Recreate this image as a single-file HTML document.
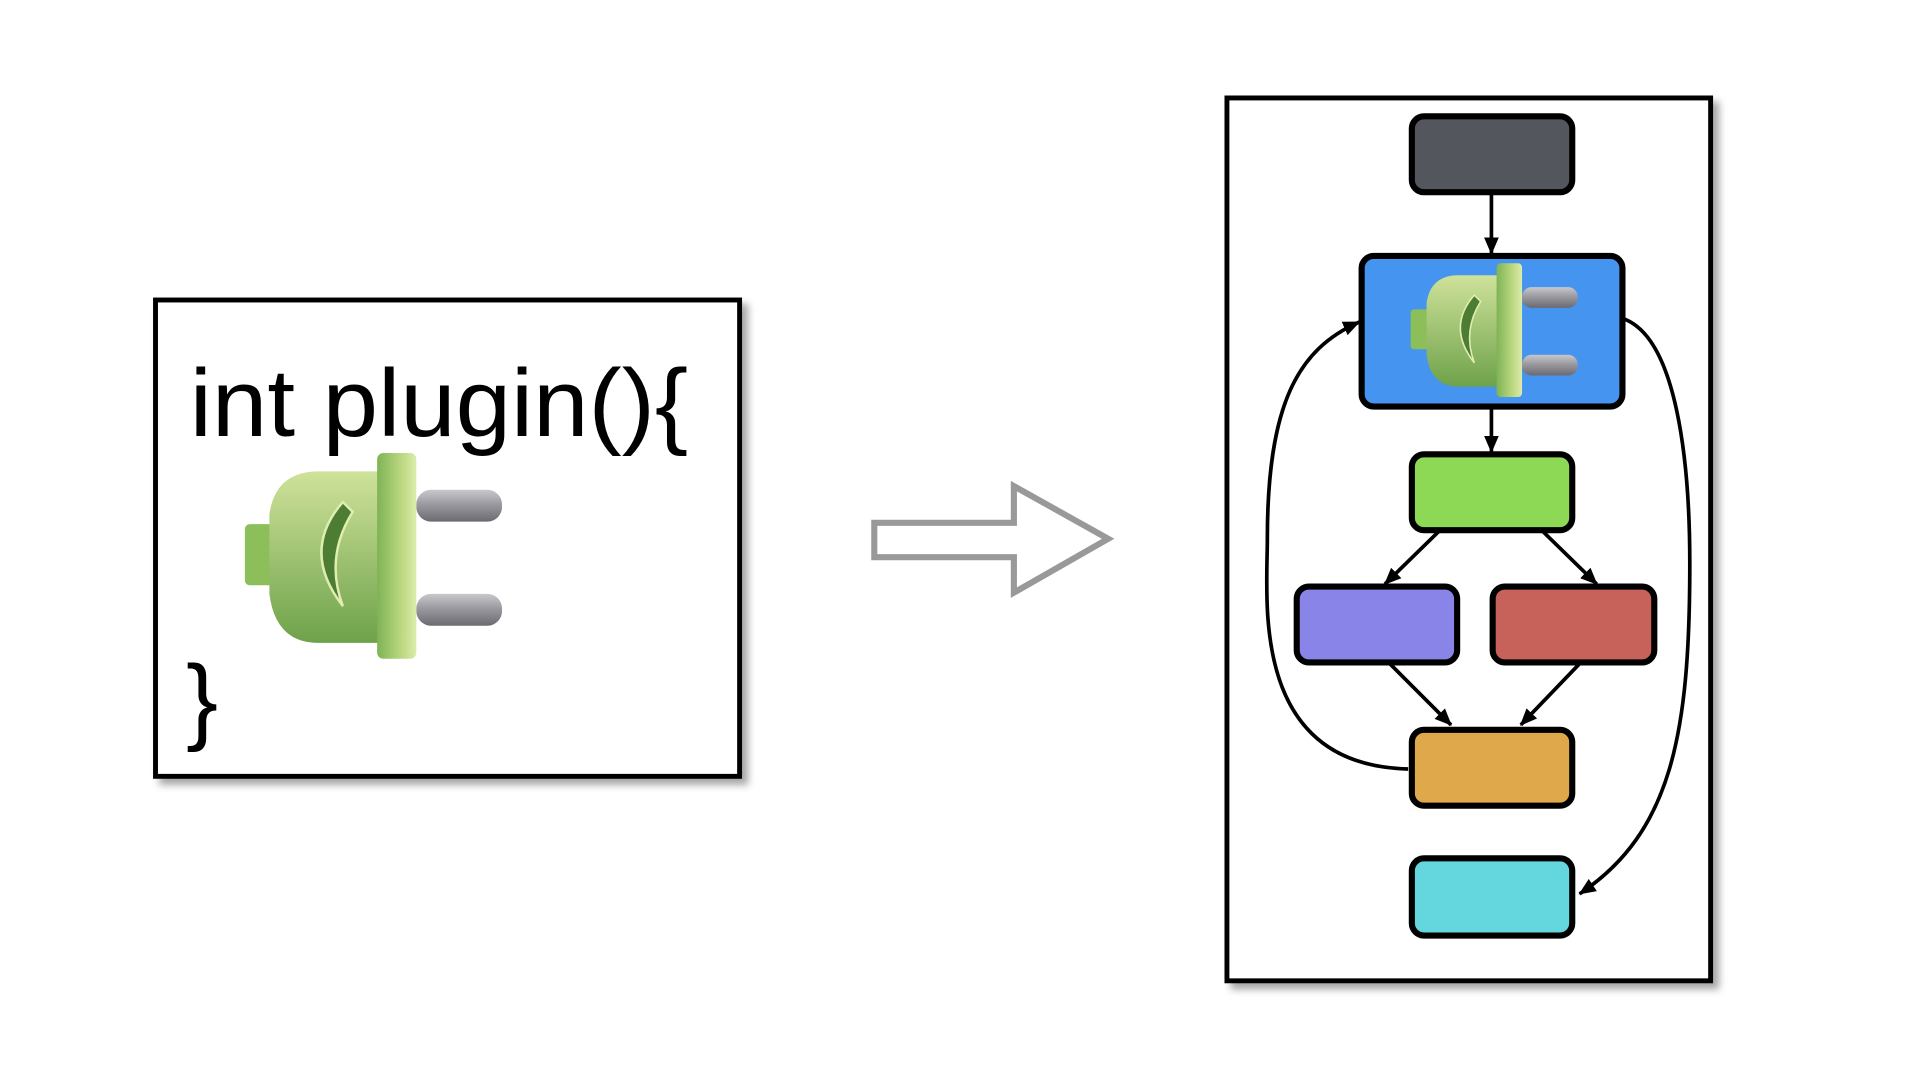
<!DOCTYPE html>
<html><head><meta charset="utf-8"><style>html,body{margin:0;padding:0;background:#fff;}svg{display:block}</style></head>
<body>
<svg width="1920" height="1080" viewBox="0 0 1568 882" xmlns="http://www.w3.org/2000/svg">
<defs>
<linearGradient id="body" x1="0" y1="0" x2="0" y2="1"><stop offset="0" stop-color="#cfe29a"/><stop offset="1" stop-color="#6ea24a"/></linearGradient>
<linearGradient id="plate" x1="0" y1="0" x2="1" y2="0"><stop offset="0" stop-color="#7fb356"/><stop offset="0.6" stop-color="#b9d77f"/><stop offset="1" stop-color="#dcecaa"/></linearGradient>
<linearGradient id="pin" x1="0" y1="0" x2="0" y2="1"><stop offset="0" stop-color="#c8c8cc"/><stop offset="0.45" stop-color="#9a9aa0"/><stop offset="1" stop-color="#6a6a70"/></linearGradient>
<filter id="sh" x="-10%" y="-10%" width="130%" height="130%"><feDropShadow dx="5" dy="5" stdDeviation="3" flood-color="#000" flood-opacity="0.35"/></filter>
<marker id="ah" markerWidth="14" markerHeight="12" refX="13" refY="6" orient="auto" markerUnits="userSpaceOnUse"><path d="M0,0 L14,6 L0,12 Z" fill="#000"/></marker>
<g id="plug">
<rect x="140" y="30" width="70" height="26" rx="12" fill="url(#pin)"/>
<rect x="140" y="115" width="70" height="26" rx="12" fill="url(#pin)"/>
<rect x="0" y="58" width="30" height="50" rx="4" fill="#8cbf5a"/>
<path d="M20,50 Q25,15 60,15 L125,15 L125,155 L60,155 Q25,155 20,115 Z" fill="url(#body)"/>
<path d="M80,40 Q45,80 80,125 Q65,85 88,48 Z" fill="#4d7d33" stroke="#dfeeb0" stroke-width="2"/>
<rect x="108" y="0" width="32" height="168" rx="5" fill="url(#plate)"/>
</g>
</defs>
<rect x="127" y="245" width="477" height="389" fill="#fff" stroke="#000" stroke-width="4" filter="url(#sh)"/>
<text x="155" y="356" font-family="Liberation Sans, sans-serif" font-size="78" fill="#000" textLength="407" lengthAdjust="spacingAndGlyphs">int plugin(){</text>
<text x="152" y="598" font-family="Liberation Sans, sans-serif" font-size="78" fill="#000">}</text>
<use href="#plug" transform="translate(200,370)"/>
<path d="M714,427 L828,427 L828,397 L905,440 L828,484 L828,455 L714,455 Z" fill="#fff" stroke="#999" stroke-width="5"/>
<rect x="1002" y="80" width="395" height="721" fill="#fff" stroke="#000" stroke-width="4" filter="url(#sh)"/>
<g stroke="#000" stroke-width="3" fill="none" marker-end="url(#ah)">
<line x1="1218" y1="158" x2="1218" y2="207"/>
<line x1="1218" y1="333" x2="1218" y2="369"/>
<line x1="1175" y1="434" x2="1131" y2="477"/>
<line x1="1260" y1="434" x2="1304" y2="477"/>
<line x1="1135" y1="542" x2="1185" y2="592"/>
<line x1="1290" y1="542" x2="1242" y2="592"/>
<path d="M1150,628 C1020,625 1035,490 1035,440 C1035,330 1060,285 1110,263"/>
<path d="M1325,260 C1370,275 1380,380 1380,460 C1380,600 1365,680 1290,730"/>
</g>
<g stroke="#000" stroke-width="5">
<rect x="1153" y="95" width="131" height="62" rx="10" fill="#53565c"/>
<rect x="1112" y="209" width="213" height="123" rx="10" fill="#4594f0"/>
<rect x="1153" y="371" width="131" height="62" rx="10" fill="#8dd855"/>
<rect x="1059" y="479" width="131" height="62" rx="10" fill="#8984e8"/>
<rect x="1219" y="479" width="132" height="62" rx="10" fill="#c6625a"/>
<rect x="1153" y="596" width="131" height="62" rx="10" fill="#dea84b"/>
<rect x="1153" y="701" width="131" height="63" rx="10" fill="#64d7de"/>
</g>
<use href="#plug" transform="translate(1152,215) scale(0.65)"/>
</svg>
</body></html>
